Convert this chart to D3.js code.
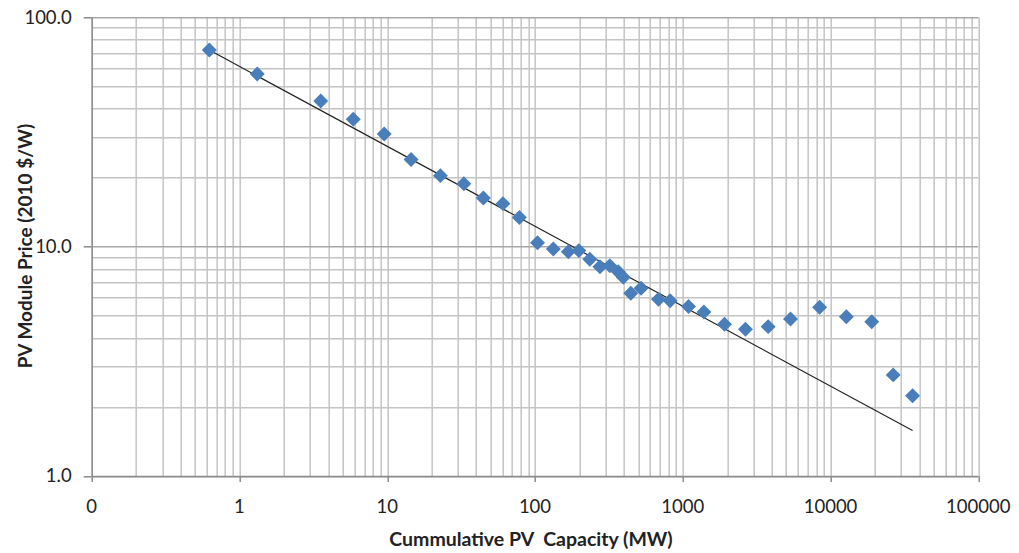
<!DOCTYPE html>
<html>
<head>
<meta charset="utf-8">
<style>
  body { margin: 0; background: #fff; }
  text { font-family: Lato, "Noto Sans", sans-serif; fill: #222; }
</style>
</head>
<body>
<svg width="1019" height="553"></svg>

<script src="https://d3js.org/d3.v7.min.js"></script>
<script>
// cumulative PV capacity (MW) and module price (2010 $/W)
var capacity = [0.625, 1.32, 3.55, 5.89, 9.54, 14.5, 22.9, 33.0, 44.7, 60.7, 78.4,
  104, 133, 168, 198, 235, 275, 321, 366, 396, 445, 522, 685, 821, 1094, 1390,
  1915, 2655, 3784, 5358, 8435, 12800, 19000, 26560, 35900]
var price = [72.0, 56.6, 43.2, 35.9, 31.0, 24.0, 20.4, 18.8, 16.3, 15.4, 13.4,
  10.4, 9.77, 9.51, 9.61, 8.81, 8.18, 8.26, 7.78, 7.36, 6.26, 6.59, 5.90, 5.81, 5.48, 5.19,
  4.59, 4.36, 4.48, 4.84, 5.44, 4.95, 4.71, 2.76, 2.24]

// power trendline y = a * x^b
var trendA = 61.1
var trendB = -0.3486

var xTicks = [0.1, 1, 10, 100, 1000, 10000, 100000]
var xTickLabels = ['0', '1', '10', '100', '1000', '10000', '100000']
var yTicks = [1, 10, 100]
var yTickLabels = ['1.0', '10.0', '100.0']

var svg = d3.select('svg')
var margin = { left: 91.7, right: 1019 - 978.3, top: 17.3, bottom: 553 - 476 }
var width = 1019 - margin.left - margin.right
var height = 553 - margin.top - margin.bottom

var x = d3.scaleLog().domain([0.1, 100000]).range([0, width])
var y = d3.scaleLog().domain([1, 100]).range([height, 0])

var g = svg.append('g').attr('transform', 'translate(' + margin.left + ',' + margin.top + ')')

// minor + major grid values
function logGrid(lo, hi) {
  var vals = []
  for (var e = lo; e < hi; e++) {
    for (var m = 1; m <= 9; m++) vals.push(m * Math.pow(10, e))
  }
  vals.push(Math.pow(10, hi))
  return vals
}
var xGrid = logGrid(-1, 5)
var yGrid = logGrid(0, 2)

g.append('g').selectAll('line')
  .data(xGrid).enter().append('line')
  .attr('x1', function (d) { return Math.round(x(d)) + 0.5 })
  .attr('x2', function (d) { return Math.round(x(d)) + 0.5 })
  .attr('y1', 0).attr('y2', height)
  .attr('stroke', '#c4c4c4').attr('stroke-width', 1.5)

g.append('g').selectAll('line')
  .data(yGrid).enter().append('line')
  .attr('y1', function (d) { return Math.round(y(d)) + 0.5 })
  .attr('y2', function (d) { return Math.round(y(d)) + 0.5 })
  .attr('x1', 0).attr('x2', width)
  .attr('stroke', function (d) { return yTicks.indexOf(d) > -1 ? '#a8a8a8' : '#c4c4c4' })
  .attr('stroke-width', 1.5)

// axes lines and ticks
g.append('line').attr('x1', 0.5).attr('x2', 0.5).attr('y1', 0).attr('y2', height)
  .attr('stroke', '#8c8c8c').attr('stroke-width', 1.5)
g.append('line').attr('x1', 0).attr('x2', width).attr('y1', height + 0.5).attr('y2', height + 0.5)
  .attr('stroke', '#8c8c8c').attr('stroke-width', 1.5)

g.append('g').selectAll('line')
  .data(yTicks).enter().append('line')
  .attr('x1', -8).attr('x2', 0)
  .attr('y1', function (d) { return Math.round(y(d)) + 0.5 })
  .attr('y2', function (d) { return Math.round(y(d)) + 0.5 })
  .attr('stroke', '#8c8c8c').attr('stroke-width', 1.5)

g.append('g').selectAll('line')
  .data(xTicks).enter().append('line')
  .attr('x1', function (d) { return Math.round(x(d)) + 0.5 })
  .attr('x2', function (d) { return Math.round(x(d)) + 0.5 })
  .attr('y1', height).attr('y2', height + 6)
  .attr('stroke', '#8c8c8c').attr('stroke-width', 1.5)

// tick labels
g.append('g').selectAll('text')
  .data(yTicks).enter().append('text')
  .attr('x', -20)
  .attr('y', function (d) { return y(d) })
  .attr('dy', '0.35em')
  .attr('text-anchor', 'end')
  .attr('font-size', 18.5)
  .text(function (d, i) { return yTickLabels[i] })

g.append('g').selectAll('text')
  .data(xTicks).enter().append('text')
  .attr('x', function (d) { return x(d) })
  .attr('y', height + 37)
  .attr('text-anchor', 'middle')
  .attr('font-size', 18.5)
  .text(function (d, i) { return xTickLabels[i] })

// trendline
var x0 = d3.min(capacity), x1 = d3.max(capacity)
var trend = [x0, x1].map(function (v) { return [v, trendA * Math.pow(v, trendB)] })
g.append('line')
  .attr('x1', x(trend[0][0])).attr('y1', y(trend[0][1]))
  .attr('x2', x(trend[1][0])).attr('y2', y(trend[1][1]))
  .attr('stroke', '#222').attr('stroke-width', 1.2)

// points
var diamond = d3.symbol().type(d3.symbolSquare).size(112)
g.append('g').selectAll('path')
  .data(capacity).enter().append('path')
  .attr('d', diamond)
  .attr('transform', function (d, i) {
    return 'translate(' + x(d) + ',' + y(price[i]) + ') rotate(45)'
  })
  .attr('fill', '#4a7ebb')

// axis titles
svg.append('text')
  .attr('x', 531).attr('y', 546)
  .attr('text-anchor', 'middle')
  .attr('font-size', 19.5).attr('font-weight', 'bold')
  .attr('fill', '#1f2a44')
  .text('Cummulative PV\u00a0 Capacity (MW)')

svg.append('text')
  .attr('transform', 'translate(32,246) rotate(-90)')
  .attr('text-anchor', 'middle')
  .attr('font-size', 19).attr('font-weight', 'bold')
  .attr('fill', '#1f2a44')
  .text('PV Module Price (2010 $/W)')
</script>
</body>
</html>
